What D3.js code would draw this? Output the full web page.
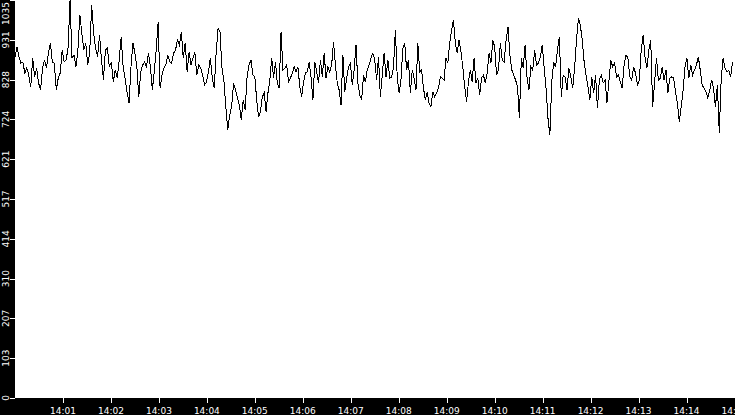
<!DOCTYPE html>
<html>
<head>
<meta charset="utf-8">
<script src="https://cdn.jsdelivr.net/npm/d3@7/dist/d3.min.js"></script>
<style>
html,body{margin:0;padding:0;background:#000;overflow:hidden;}
svg{display:block;}
text{font-family:"DejaVu Sans",sans-serif;font-size:9px;fill:#fff;}
</style>
</head>
<body>
<svg id="chart" width="735" height="415"></svg>
<script>
// ---- data ----
const startTime = new Date(2020, 0, 1, 14, 0, 0);
const endTime = new Date(2020, 0, 1, 14, 15, 0);
const yMax = 1035;
const yTickLabels = ["0","103","207","310","414","517","621","724","828","931","1035"];
const xTickMinutes = [1,2,3,4,5,6,7,8,9,10,11,12,13,14,15];
// each block covers 2.5 minutes of readings
const values1 = [887,913,887,871,874,845,858,840,809,884,835,858,819,801,858,879,858,897,923,874,871,801,832,845,905,874,879,910,1035,884,892,861,905,996,949,905,923,866,897,1022,949,910,887,944,879,827,905,910,861,874,822,853,832,879,939,861,832,796,767,861,923];
const values2 = [897,861,783,848,866,874,861,897,861,801,848,905,978,806,840,858,866,892,874,871,897,905,931,918,952,884,923,848,900,866,884,900,840,866,858,840,814,822,848,884,832,806,897,962,952,858,827,757,697,736,757,819,801,780,762,723,775,749,835,866,879,840];
const values3 = [835,775,731,744,783,793,744,793,827,884,832,874,819,806,952,853,858,866,822,832,845,861,848,861,809,783,822,845,848,874,835,775,874,848,819,879,835,897,832,861,848,866,926,866,819,801,762,892,796,832,861,871,814,853,918,819,788,775,840,822,853,866,884,897];
const values4 = [879,827,887,783,840,897,835,879,832,835,858,957,835,793,827,910,923,853,879,793,853,832,801,923,848,853,806,775,796,767,757,796,783,793,806,835,832,827,884,871,923,957,983,923,897,931,900,861,809,770,822,853,822,884,819,832,788,832,840,819,845,897,871,931];
const values5 = [913,840,853,923,879,874,931,965,892,853,840,827,809,728,884,858,918,835,801,861,853,905,866,871,887,918,858,806,728,684,822,874,861,905,939,783,840,835,801,858,835,806,858,931,988,970,931,874,840,809,775,835,793,840,754,827,840,819,827,767,822,879,861];
const values6 = [871,835,840,822,806,866,892,884,835,827,861,845,814,827,905,944,887,858,905,931,757,819,884,827,832,861,827,853,793,832,835,832,796,767,718,757,801,861,884,832,866,840,853,866,887,853,814,806,796,780,801,827,806,757,814,689,827,884,858,848,853,835,874];

const blocks = [values1, values2, values3, values4, values5, values6];
const blockMs = (endTime - startTime) / blocks.length;
const data = [];
blocks.forEach((arr, b) => {
  const step = blockMs / arr.length;
  arr.forEach((v, i) => data.push({t: new Date(+startTime + b * blockMs + i * step), v}));
});

// ---- layout ----
const W = 735, H = 415;
const left = 15, bottom = 398;

const svg = d3.select("#chart");
svg.append("rect").attr("width", W).attr("height", H).attr("fill", "#000");
svg.append("rect").attr("x", left).attr("y", 0).attr("width", W - left).attr("height", bottom).attr("fill", "#fff");

const x = d3.scaleTime().domain([startTime, endTime]).range([left, 734.5]);
const y = d3.scaleLinear().domain([0, yMax]).range([bottom, 0]);

// line
const line = d3.line().x(d => x(d.t)).y(d => y(d.v));
svg.append("path").datum(data)
  .attr("d", line)
  .attr("fill", "none")
  .attr("stroke", "#000")
  .attr("stroke-width", 1)
  .attr("shape-rendering", "crispEdges");

// y axis
const yTicks = yTickLabels.map((lab, k) => ({lab, v: yMax * k / (yTickLabels.length - 1)}));
const yg = svg.append("g");
yg.selectAll("line").data(yTicks).enter().append("line")
  .attr("x1", left - 5).attr("x2", left)
  .attr("y1", d => Math.round(y(d.v)) + 0.5).attr("y2", d => Math.round(y(d.v)) + 0.5)
  .attr("stroke", "#fff").attr("stroke-width", 1);
yg.selectAll("text").data(yTicks).enter().append("text")
  .attr("text-anchor", "middle")
  .attr("transform", function(d) {
    const w = d.lab.length * 5.73;
    let cy = y(d.v);
    cy = Math.max(cy, w / 2 + 2);
    return `translate(8.5,${cy}) rotate(-90)`;
  })
  .text(d => d.lab);

// x axis
const fmt = d3.timeFormat("%H:%M");
const xTicks = xTickMinutes.map(m => new Date(+startTime + m * 60000));
const xg = svg.append("g");
xg.selectAll("line").data(xTicks).enter().append("line")
  .attr("x1", d => Math.round(x(d)) + 0.5).attr("x2", d => Math.round(x(d)) + 0.5)
  .attr("y1", bottom).attr("y2", bottom + 5)
  .attr("stroke", "#fff").attr("stroke-width", 1);
xg.selectAll("text").data(xTicks).enter().append("text")
  .attr("text-anchor", "middle")
  .attr("x", d => x(d))
  .attr("y", 413.5)
  .text(d => fmt(d));
</script>
</body>
</html>
